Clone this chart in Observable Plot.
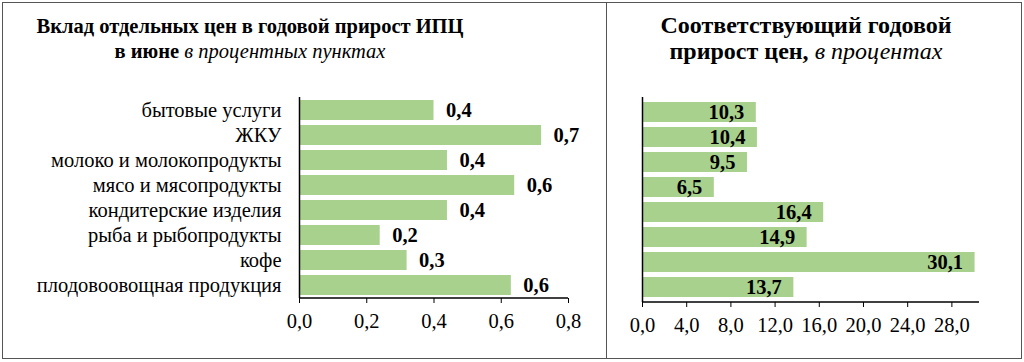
<!DOCTYPE html>
<html>
<head>
<meta charset="utf-8">
<script src="https://cdn.jsdelivr.net/npm/d3@7"></script>
<script src="https://cdn.jsdelivr.net/npm/@observablehq/plot@0.6"></script>
<style>
  html, body { margin: 0; padding: 0; background: #fff; }
  #root { position: relative; width: 1024px; height: 362px; overflow: hidden; font-family: 'Liberation Serif', serif; color: #000; }
  .frame { position: absolute; left: 2px; top: 2px; width: 1018px; height: 355px; border: 1px solid #555; }
  .divider { position: absolute; left: 606px; top: 2px; width: 1px; height: 356px; background: #555; }
  .title { position: absolute; top: 13px; text-align: center; font-weight: bold; white-space: nowrap; }
  .title i { font-weight: normal; }
  .plot { position: absolute; top: 80px; }
</style>
</head>
<body>
<div id="root">
  <div class="frame"></div>
  <div class="divider"></div>
  <div class="title" style="left:0px;width:500px;font-size:20.5px;line-height:25px;top:14px;">Вклад отдельных цен в годовой прирост ИПЦ<br>в июне <i>в процентных пунктах</i></div>
  <div class="title" style="left:606px;width:400px;font-size:24px;line-height:26px;top:12px;">Соответствующий годовой<br>прирост цен, <i>в процентах</i></div>
  <div id="left" class="plot" style="left:3px;"></div>
  <div id="right" class="plot" style="left:606px;"></div>
</div>
<script>
const categories = ["бытовые услуги", "ЖКУ", "молоко и молокопродукты", "мясо и мясопродукты", "кондитерские изделия", "рыба и рыбопродукты", "кофе", "плодовоовощная продукция"];
const contribution = [0.40, 0.72, 0.44, 0.64, 0.44, 0.24, 0.32, 0.63];
const growth = [10.3, 10.4, 9.5, 6.5, 16.4, 14.9, 30.1, 13.7];
const leftTicks = [0, 0.2, 0.4, 0.6, 0.8];
const rightTicks = [0, 4, 8, 12, 16, 20, 24, 28];

const fmt = v => d3.format(".1f")(v).replace(".", ",");
const green = "#A9D18E";
const leftData = categories.map((c, i) => ({c, v: contribution[i]}));
const rightData = categories.map((c, i) => ({c, v: growth[i]}));

function bottomLine(index, scales, values, dim) {
  const y = dim.height - dim.marginBottom;
  const l = d3.create("svg:line")
    .attr("x1", dim.marginLeft).attr("x2", dim.width - dim.marginRight)
    .attr("y1", y).attr("y2", y)
    .attr("stroke", "#000").attr("stroke-width", 1.3);
  return l.node();
}

const style = {fontFamily: "'Liberation Serif', serif", fontSize: "20px", color: "#000", background: "transparent", overflow: "visible"};

const left = Plot.plot({
  width: 603, height: 265,
  marginLeft: 296, marginRight: 38, marginTop: 17, marginBottom: 47,
  style,
  x: {domain: [0, 0.8], label: null},
  y: {domain: categories, paddingInner: 0.2, paddingOuter: 0.1, label: null},
  marks: [
    Plot.barX(leftData, {x: "v", y: "c", fill: green}),
    Plot.text(leftData, {x: "v", y: "c", text: d => fmt(d.v), textAnchor: "start", dx: 12, fontWeight: "bold", fontSize: 20.5, fill: "#000"}),
    Plot.axisX({ticks: leftTicks, tickFormat: fmt, tickSize: 5, tickPadding: 10, fontSize: 20.5, label: null, stroke: "#000"}),
    Plot.axisY({tickSize: 0, tickPadding: 18, fontSize: 20.5, label: null}),
    Plot.ruleX([0], {stroke: "#000", strokeWidth: 1.5}),
    bottomLine
  ]
});
document.getElementById("left").appendChild(left);

const right = Plot.plot({
  width: 415, height: 265,
  marginLeft: 36, marginRight: 42, marginTop: 17, marginBottom: 43,
  style,
  x: {domain: [0, 30.5], label: null},
  y: {domain: categories, paddingInner: 0.2, paddingOuter: 0.1, axis: null},
  marks: [
    Plot.barX(rightData, {x: "v", y: "c", fill: green}),
    Plot.text(rightData, {x: "v", y: "c", text: d => fmt(d.v), textAnchor: "end", dx: -12, fontWeight: "bold", fontSize: 20.5, fill: "#000"}),
    Plot.axisX({ticks: rightTicks, tickFormat: fmt, tickSize: 5, tickPadding: 10, fontSize: 20.5, label: null, stroke: "#000"}),
    Plot.ruleX([0], {stroke: "#000", strokeWidth: 1.5}),
    bottomLine
  ]
});
document.getElementById("right").appendChild(right);
</script>
</body>
</html>
